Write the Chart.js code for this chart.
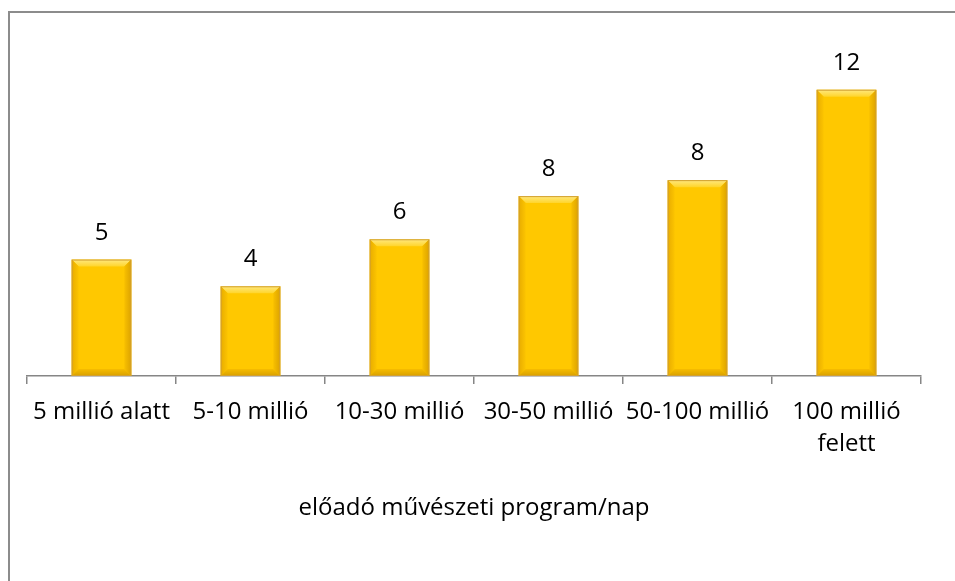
<!DOCTYPE html>
<html>
<head>
<meta charset="utf-8">
<script src="https://cdn.jsdelivr.net/npm/chart.js@4"></script>
<style>
  html, body { margin: 0; padding: 0; background: #fff; overflow: hidden; }
  #wrap { position: relative; width: 955px; height: 581px; }
  #frame {
    position: absolute; left: 8px; top: 11px; width: 960px; height: 590px;
    border-top: 2px solid #8c8c8c; border-left: 2px solid #8c8c8c;
  }
  canvas { position: absolute; left: 0; top: 0; }
</style>
</head>
<body>
<div id="wrap">
  <div id="frame"></div>
  <canvas id="chart" width="955" height="581"></canvas>
</div>
<script>
const categories = [
  "5 millió alatt",
  "5-10 millió",
  "10-30 millió",
  "30-50 millió",
  "50-100 millió",
  ["100 millió", "felett"],
];
// bar heights; labels show the rounded value
const values = [4.88, 3.76, 5.73, 7.54, 8.21, 12.0];
const axisTitle = "előadó művészeti program/nap";
const yMax = 14;

const FONT = "'Open Sans', 'Noto Sans', sans-serif";

// bevelled gold bars + value labels on top
const bevelPlugin = {
  id: "bevel",
  afterDatasetsDraw(chart) {
    const c = chart.ctx;
    const meta = chart.getDatasetMeta(0);
    meta.data.forEach((bar, i) => {
      const p = bar.getProps(["x", "y", "base", "width"], true);
      const l = p.x - p.width / 2;
      const r = p.x + p.width / 2;
      const t = p.y;
      const b = p.base;
      const s = 7;
      c.save();
      // top bevel
      let g = c.createLinearGradient(0, t, 0, t + s);
      g.addColorStop(0, "#ffe880");
      g.addColorStop(1, "#ffd52a");
      c.fillStyle = g;
      c.beginPath();
      c.moveTo(l, t); c.lineTo(r, t); c.lineTo(r - s, t + s); c.lineTo(l + s, t + s);
      c.closePath(); c.fill();
      // left bevel
      g = c.createLinearGradient(l, 0, l + s, 0);
      g.addColorStop(0, "#e8ac00");
      g.addColorStop(1, "#fcc400");
      c.fillStyle = g;
      c.beginPath();
      c.moveTo(l, t); c.lineTo(l + s, t + s); c.lineTo(l + s, b - s); c.lineTo(l, b);
      c.closePath(); c.fill();
      // right bevel
      g = c.createLinearGradient(r, 0, r - s, 0);
      g.addColorStop(0, "#dca200");
      g.addColorStop(1, "#f8c000");
      c.fillStyle = g;
      c.beginPath();
      c.moveTo(r, t); c.lineTo(r - s, t + s); c.lineTo(r - s, b - s); c.lineTo(r, b);
      c.closePath(); c.fill();
      // bottom bevel
      g = c.createLinearGradient(0, b, 0, b - s);
      g.addColorStop(0, "#d8a000");
      g.addColorStop(1, "#f6bc00");
      c.fillStyle = g;
      c.beginPath();
      c.moveTo(l, b); c.lineTo(l + s, b - s); c.lineTo(r - s, b - s); c.lineTo(r, b);
      c.closePath(); c.fill();
      // outline
      c.strokeStyle = "#d2a030";
      c.lineWidth = 1;
      c.strokeRect(l + 0.5, t + 0.5, p.width - 1, b - t - 1);
      // value label
      c.fillStyle = "#000";
      c.font = "24px " + FONT;
      c.textAlign = "center";
      c.textBaseline = "alphabetic";
      c.fillText(String(Math.round(values[i])), p.x, t - 20);
      c.restore();
    });
  },
};

new Chart(document.getElementById("chart"), {
  type: "bar",
  data: {
    labels: categories,
    datasets: [
      {
        data: values,
        backgroundColor: "#ffc800",
        borderWidth: 0,
        categoryPercentage: 1,
        barPercentage: 0.4,
      },
    ],
  },
  options: {
    responsive: false,
    animation: false,
    events: [],
    layout: { padding: { left: 27, right: 34, top: 42, bottom: 0 } },
    plugins: {
      legend: { display: false },
      tooltip: { enabled: false },
    },
    scales: {
      y: { display: false, min: 0, max: yMax },
      x: {
        afterFit(scale) {
          scale.height = 581 - 376;
        },
        border: { color: "#868686", width: 1.5 },
        grid: {
          drawOnChartArea: false,
          color: "#868686",
          lineWidth: 1.5,
          tickLength: 8,
          offset: true,
        },
        ticks: {
          color: "#000",
          padding: 12,
          maxRotation: 0,
          autoSkip: false,
          font: { family: FONT, size: 24, lineHeight: 32 / 24 },
        },
        title: {
          display: true,
          text: axisTitle,
          color: "#000",
          font: { family: FONT, size: 24, lineHeight: 1.2 },
          padding: { top: 0, bottom: 58 },
        },
      },
    },
  },
  plugins: [bevelPlugin],
});
</script>
</body>
</html>
